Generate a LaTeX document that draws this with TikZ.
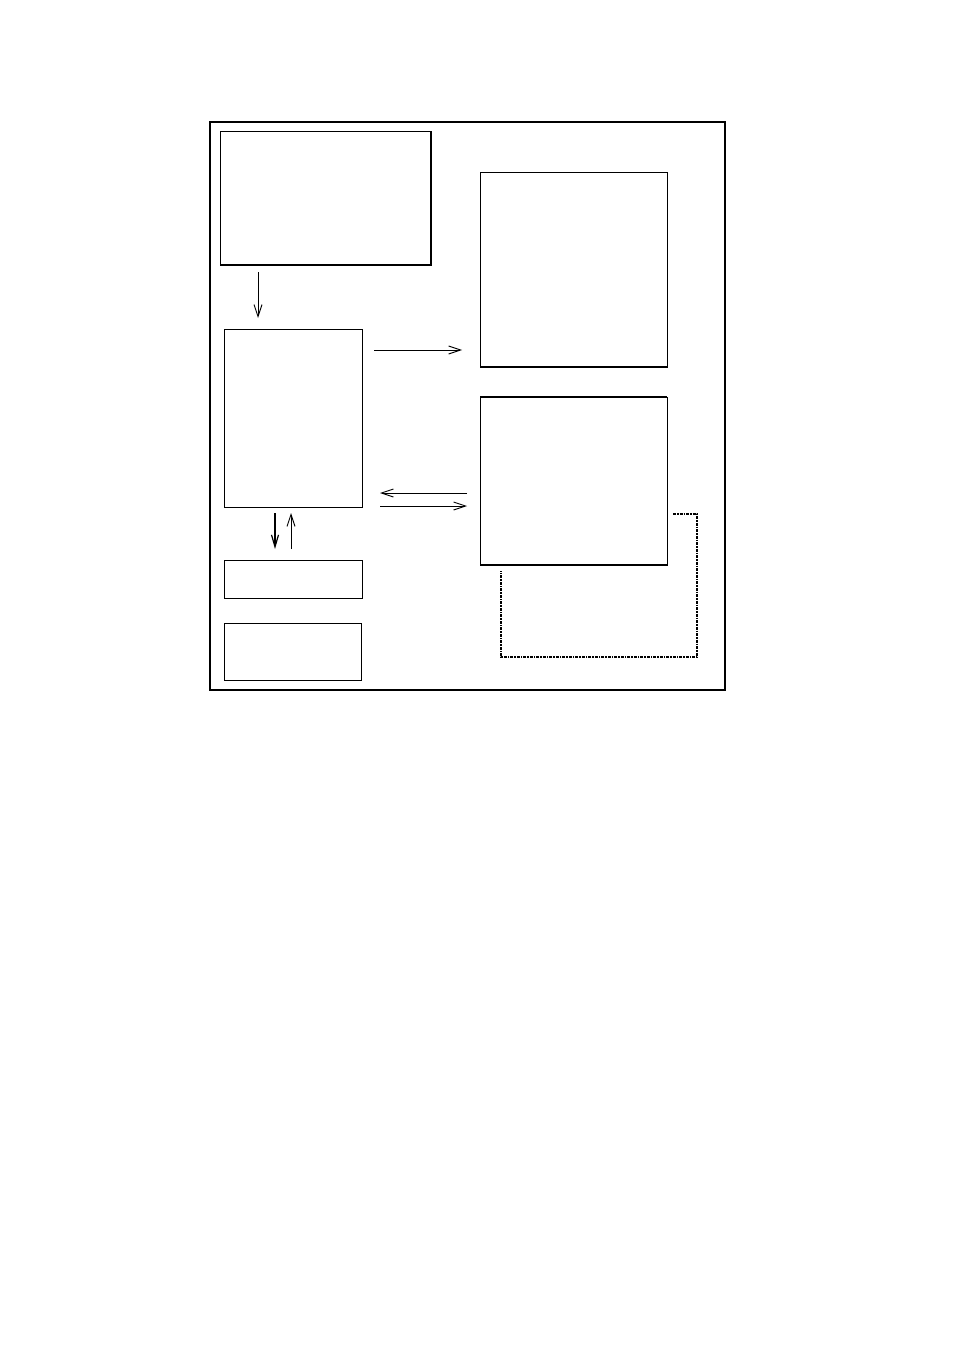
\documentclass[tikz,border=0pt]{standalone}
\usetikzlibrary{arrows.meta,calc}
\begin{document}
\begin{tikzpicture}[x=1pt,y=-1pt,
  box/.style={draw,rectangle,line width=1pt,inner sep=0pt,outer sep=0pt},
  arr/.style={line width=0.9pt,-{Straight Barb[length=12pt,width=8pt,line width=0.9pt]}},
  thickarr/.style={line width=2pt,-{Straight Barb[length=12pt,width=7pt,line width=1.2pt]}},
  dotline/.style={line width=2pt,dash pattern=on 3pt off 1pt on 1.5pt off 1pt}]
\useasboundingbox (0,0) rectangle (954,1348);
\draw[line width=2pt] (210,122) rectangle (725,690);
\node[box,minimum width=211pt,minimum height=133pt] (A) at (325.5,198.5) {};
\node[box,minimum width=138pt,minimum height=178pt] (B) at (293,418) {};
\node[box,minimum width=138pt,minimum height=38pt] (C) at (293,579) {};
\node[box,minimum width=137pt,minimum height=57pt] (D) at (292.5,651.5) {};
\node[box,minimum width=187pt,minimum height=194pt] (E) at (573.5,270) {};
\node[box,minimum width=187pt,minimum height=168pt] (F) at (573.5,481) {};
% heavier edges
\draw[line width=2pt] (A.south west) -- (A.south east) -- (A.north east);
\draw[line width=2pt] (E.south west) -- (E.south east);
\draw[line width=2pt] (F.north west) -- (F.north east);
\draw[line width=2pt] (F.south west) -- (F.south east);
% connectors
\draw[arr] ($(A.south west)+(38,7)$) -- ($(B.north west)+(34,-11)$);
\draw[arr] ($(B.north east)+(12,21)$) -- ($(E.south west)+(-18,-17)$);
\draw[arr] ($(F.north west)+(-13,96)$) -- ($(B.north east)+(18,164)$);
\draw[arr] ($(B.north east)+(18,177)$) -- ($(F.north west)+(-13,109)$);
\draw[thickarr] ($(B.south west)+(51,6)$) -- ($(C.north west)+(51,-11)$);
\draw[arr] ($(C.north west)+(67,-11)$) -- ($(B.south west)+(67,6)$);
\coordinate (p1) at ($(F.north east)+(6,117)$);
\coordinate (p2) at ($(F.south west)+(21,6)$);
\draw[dotline] (p1) -- (697,514) -- (697,657) -- (501,657) -- (p2);
\end{tikzpicture}
\end{document}
